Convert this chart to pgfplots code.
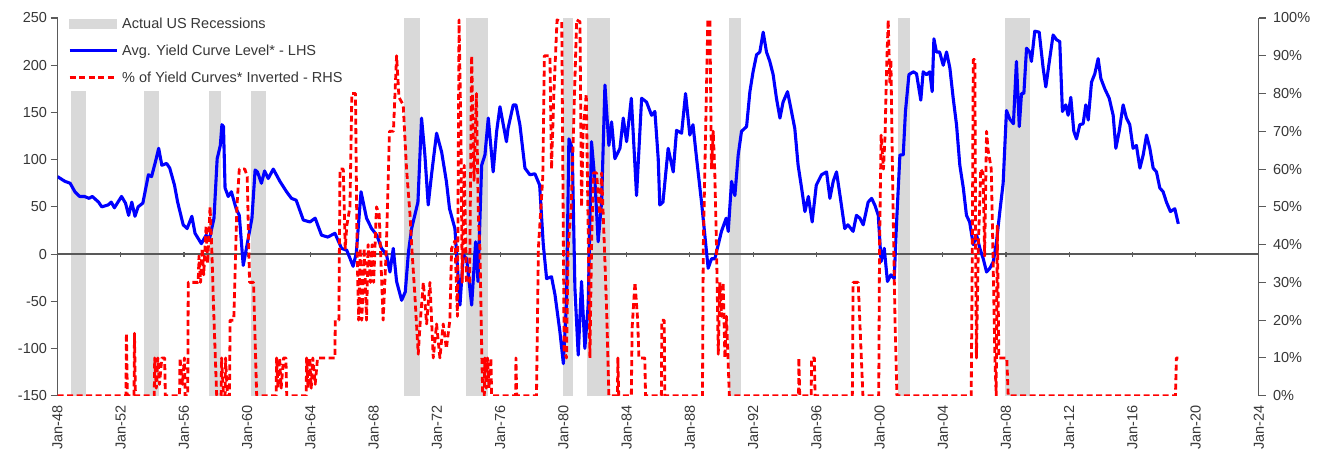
\documentclass[border=0pt]{standalone}
\usepackage{fontspec}
\setmainfont{Liberation Sans}
\usepackage{pgfplots}
\pgfplotsset{compat=1.18}
\definecolor{recgray}{RGB}{217,217,217}
\definecolor{axgray}{RGB}{90,90,90}
\definecolor{txtgray}{RGB}{55,55,55}
\definecolor{ycblue}{RGB}{0,0,255}
\definecolor{ycred}{RGB}{255,0,0}
\pgfplotsset{
  base/.style={
    scale only axis, width=1201.5pt, height=377.7pt,
    at={(57.5pt,53.3pt)}, anchor=south west,
    xmin=1948, xmax=2024,
    tick label style={font=\fontsize{14.5}{16}\selectfont, text=txtgray},
    major tick length=7pt, tick align=outside,
    axis line style={-, draw=axgray, line width=1.1pt},
    tick style={draw=axgray, line width=1.1pt},
  },
  recbar/.style={fill=recgray, draw=none, forget plot},
  mylineleg/.style={legend image code/.code={\draw[##1] (0pt,0pt) -- (47pt,0pt);}},
  myboxleg/.style={legend image code/.code={\fill[recgray] (0pt,-4.5pt) rectangle (47pt,4.5pt);}},
}
\begin{document}
\begin{tikzpicture}
\useasboundingbox (0,0) rectangle (1319pt,449pt);
% ---------- left axis: recessions + labels
\begin{axis}[base, ymin=-150, ymax=250,
  axis y line*=left, axis x line*=bottom,
  x axis line style={draw=none},
  xtick={1948,1952,...,2024},
  xticklabels={Jan-48,Jan-52,Jan-56,Jan-60,Jan-64,Jan-68,Jan-72,Jan-76,Jan-80,Jan-84,Jan-88,Jan-92,Jan-96,Jan-00,Jan-04,Jan-08,Jan-12,Jan-16,Jan-20,Jan-24},
  xtick style={draw=none},
  x tick label style={rotate=90, anchor=east, inner xsep=2.3pt},
  ytick={-150,-100,...,250},
  yticklabels={-150,-100,-50,0,50,100,150,200,250},
]
\addplot[recbar] coordinates {(1948.83,-150)(1948.83,250)(1949.83,250)(1949.83,-150)} --cycle;
\addplot[recbar] coordinates {(1953.5,-150)(1953.5,250)(1954.42,250)(1954.42,-150)} --cycle;
\addplot[recbar] coordinates {(1957.58,-150)(1957.58,250)(1958.33,250)(1958.33,-150)} --cycle;
\addplot[recbar] coordinates {(1960.25,-150)(1960.25,250)(1961.17,250)(1961.17,-150)} --cycle;
\addplot[recbar] coordinates {(1969.92,-150)(1969.92,250)(1970.92,250)(1970.92,-150)} --cycle;
\addplot[recbar] coordinates {(1973.83,-150)(1973.83,250)(1975.25,250)(1975.25,-150)} --cycle;
\addplot[recbar] coordinates {(1980.0,-150)(1980.0,250)(1980.58,250)(1980.58,-150)} --cycle;
\addplot[recbar] coordinates {(1981.5,-150)(1981.5,250)(1982.92,250)(1982.92,-150)} --cycle;
\addplot[recbar] coordinates {(1990.5,-150)(1990.5,250)(1991.25,250)(1991.25,-150)} --cycle;
\addplot[recbar] coordinates {(2001.17,-150)(2001.17,250)(2001.92,250)(2001.92,-150)} --cycle;
\addplot[recbar] coordinates {(2007.92,-150)(2007.92,250)(2009.5,250)(2009.5,-150)} --cycle;
\end{axis}
% ---------- zero line + blue series
\begin{axis}[base, ymin=-150, ymax=250,
  axis x line=middle, axis y line=none,
  x axis line style={-, draw=black!65, line width=1.4pt},
  xtick={1948,1952,...,2024}, xticklabels={}, ytick=\empty,
  major tick length=5pt,
]
\addplot[ycblue, line width=3.1pt, line join=round] coordinates {
(1948.0,82)(1948.47,77)(1948.8,75)(1949.1,66)(1949.4,61)(1949.7,61)(1950.0,59)(1950.2,61)
(1950.6,55)(1950.8,50)(1951.2,52)(1951.4,55)(1951.6,49)(1952.05,61)(1952.3,54)(1952.5,41)
(1952.7,55)(1952.9,40)(1953.1,50)(1953.4,54)(1953.75,84)(1953.95,82)(1954.2,98)(1954.4,112)
(1954.6,94)(1954.9,96)(1955.1,91)(1955.4,73)(1955.6,55)(1955.95,31)(1956.2,27)(1956.5,40)
(1956.7,22)(1957.1,11)(1957.4,20)(1957.6,15)(1957.9,38)(1958.1,101)(1958.3,115)(1958.4,137)
(1958.5,135)(1958.6,70)(1958.8,61)(1959.0,66)(1959.3,48)(1959.5,41)(1959.75,-12)(1959.95,6)
(1960.3,38)(1960.5,89)(1960.65,87)(1960.9,75)(1961.1,88)(1961.33,80)(1961.65,90)(1962.07,77)
(1962.49,66)(1962.8,59)(1963.1,57)(1963.55,36)(1963.97,34)(1964.3,38)(1964.7,20)(1965.1,18)
(1965.55,22)(1965.97,6)(1966.3,4)(1966.7,-13)(1966.9,1)(1967.2,66)(1967.55,38)(1967.87,27)
(1968.2,20)(1968.5,6)(1968.82,-1)(1969.03,-19)(1969.24,6)(1969.45,-29)(1969.77,-49)(1970.0,-40)
(1970.2,2)(1970.4,27)(1970.8,55)(1971.03,144)(1971.24,105)(1971.45,52)(1971.66,84)(1971.98,128)
(1972.3,108)(1972.6,77)(1972.8,48)(1973.14,27)(1973.46,-54)(1973.67,-1)(1973.88,-5)(1974.2,-54)
(1974.45,13)(1974.6,-29)(1974.83,94)(1975.04,105)(1975.25,144)(1975.56,87)(1975.78,130)(1975.99,156)
(1976.2,137)(1976.4,119)(1976.5,133)(1976.83,158)(1977.0,158)(1977.25,137)(1977.57,91)(1977.88,84)
(1978.2,85)(1978.5,73)(1978.73,10)(1978.94,-26)(1979.25,-24)(1979.47,-43)(1979.78,-82)(1980.0,-116)
(1980.2,-50)(1980.35,122)(1980.56,112)(1980.73,-36)(1980.94,-107)(1981.15,-29)(1981.36,-100)(1981.57,-54)
(1981.78,119)(1982.0,77)(1982.2,13)(1982.42,55)(1982.63,179)(1982.88,115)(1983.05,140)(1983.26,101)
(1983.58,112)(1983.79,144)(1984.0,119)(1984.3,165)(1984.63,62)(1984.95,165)(1985.26,161)(1985.58,147)
(1985.79,151)(1986.0,101)(1986.1,52)(1986.3,55)(1986.63,112)(1986.95,87)(1987.16,131)(1987.48,128)
(1987.73,170)(1988.0,126)(1988.2,137)(1988.43,101)(1988.74,55)(1988.95,20)(1989.16,-15)(1989.37,-5)
(1989.58,-5)(1989.8,10)(1990.0,24)(1990.3,38)(1990.43,24)(1990.64,77)(1990.85,62)(1991.06,105)
(1991.27,130)(1991.59,135)(1991.8,172)(1992.0,193)(1992.22,211)(1992.43,214)(1992.64,235)(1992.85,214)
(1993.06,204)(1993.27,190)(1993.48,165)(1993.7,144)(1993.9,161)(1994.18,172)(1994.43,151)(1994.64,133)
(1994.85,94)(1995.07,70)(1995.28,45)(1995.5,61)(1995.74,34)(1996.0,73)(1996.33,84)(1996.65,87)
(1996.86,59)(1997.07,77)(1997.28,87)(1997.5,62)(1997.8,27)(1998.0,31)(1998.33,24)(1998.54,41)
(1998.76,38)(1998.97,31)(1999.28,55)(1999.5,59)(1999.7,52)(1999.92,41)(2000.1,-8)(2000.3,6)
(2000.5,-29)(2000.72,-22)(2000.93,-26)(2001.08,34)(2001.29,105)(2001.5,105)(2001.64,151)(2001.86,190)
(2002.13,193)(2002.34,191)(2002.61,163)(2002.76,193)(2002.97,190)(2003.18,193)(2003.33,172)(2003.44,228)
(2003.6,214)(2003.8,214)(2004.03,200)(2004.24,214)(2004.45,197)(2004.66,165)(2004.87,137)(2005.08,94)
(2005.3,70)(2005.5,41)(2005.7,34)(2005.93,10)(2006.14,20)(2006.35,6)(2006.56,-5)(2006.77,-19)
(2006.98,-15)(2007.2,-8)(2007.4,13)(2007.61,45)(2007.82,75)(2008.03,152)(2008.24,143)(2008.47,138)
(2008.66,204)(2008.84,135)(2008.98,170)(2009.13,170)(2009.3,218)(2009.5,214)(2009.61,204)(2009.82,236)
(2010.1,235)(2010.35,197)(2010.52,177)(2010.75,205)(2010.98,232)(2011.2,227)(2011.4,225)(2011.57,151)
(2011.78,158)(2011.93,147)(2012.1,166)(2012.29,130)(2012.46,122)(2012.67,137)(2012.88,138)(2013.05,158)
(2013.2,142)(2013.41,182)(2013.62,191)(2013.83,207)(2014.0,186)(2014.25,175)(2014.53,165)(2014.78,147)
(2014.95,112)(2015.16,130)(2015.41,158)(2015.62,144)(2015.83,137)(2016.04,112)(2016.25,115)(2016.47,91)
(2016.68,105)(2016.89,126)(2017.1,112)(2017.31,91)(2017.52,87)(2017.73,70)(2017.94,66)(2018.15,55)
(2018.4,45)(2018.68,48)(2018.9,32)
};
\end{axis}
% ---------- right axis: red series + legend
\begin{axis}[base, ymin=0, ymax=100,
  axis y line*=right, axis x line=none, xtick=\empty,
  ytick={0,10,...,100},
  yticklabels={0\%,10\%,20\%,30\%,40\%,50\%,60\%,70\%,80\%,90\%,100\%},
  y tick label style={inner xsep=7pt},
  legend style={at={(0.0062,0.8054)}, anchor=south west, draw=none, fill=white,
    font=\fontsize{14.5}{16}\selectfont, text=txtgray,
    inner xsep=3pt, inner ysep=8pt, row sep=16pt, column sep=4pt,
    nodes={inner sep=0pt, text height=10pt, text depth=1pt}},
  legend cell align=left,
]
\addlegendimage{myboxleg}
\addlegendentry{Actual US Recessions}
\addlegendimage{ycblue, line width=3.1pt, mylineleg}
\addlegendentry{Avg. Yield Curve Level* - LHS}
\addplot[ycred, line width=2.8pt, dash pattern=on 6pt off 3.5pt, line join=round, mylineleg] coordinates {
(1948,0)(1952.33,0)(1952.36,16.5)(1952.42,0)(1952.84,0)(1952.87,16.5)(1952.93,0)
(1954.12,0)(1954.15,10)(1954.25,2)(1954.35,10)(1954.45,3)(1954.6,10)(1954.78,10)(1954.82,0)
(1955.72,0)(1955.75,10)(1955.9,3)(1956.03,10)(1956.07,0)
(1956.24,0)(1956.27,30)(1956.9,30)(1956.95,37)(1957.05,30)(1957.15,39)(1957.25,32)(1957.4,45)
(1957.5,35)(1957.65,50)(1957.75,40)(1957.9,20)(1958.07,0)
(1958.35,0)(1958.38,10)(1958.5,0)(1958.6,0)(1958.63,10)(1958.75,0)
(1958.88,0)(1958.92,20)(1959.15,20)(1959.35,50)(1959.5,60)(1959.85,60)(1960.0,58)(1960.15,30)
(1960.4,30)(1960.6,0)
(1961.83,0)(1961.86,10)(1961.95,2)(1962.05,10)(1962.15,2)(1962.3,10)(1962.45,10)(1962.5,0)
(1963.73,0)(1963.76,10)(1963.85,2)(1963.95,10)(1964.05,2)(1964.15,10)(1964.3,3)(1964.45,10)
(1965.55,10)(1965.57,20)(1965.8,20)(1965.87,60)(1966.08,60)(1966.2,39)(1966.3,45)(1966.5,50)
(1966.62,80)(1966.85,80)(1966.95,39)(1967.05,20)(1967.15,39)(1967.25,20)(1967.4,39)(1967.55,20)
(1967.65,40)(1967.8,30)(1967.9,40)(1968.0,30)(1968.18,50)(1968.35,48)(1968.6,20)(1968.8,39)
(1969.0,70)(1969.25,70)(1969.45,90)(1969.6,79)(1969.87,77)(1970.08,60)(1970.3,48)(1970.4,40)
(1970.6,27)(1970.82,11)(1970.92,18)(1971.14,30)(1971.35,19)(1971.56,30)(1971.77,10)(1971.98,19)
(1972.19,10)(1972.4,19)(1972.6,12.5)(1972.82,20)(1972.93,39)(1973.14,41)(1973.3,21)(1973.4,99.5)
(1973.52,70)(1973.6,30)(1973.73,61)(1973.87,30)(1974.07,30)(1974.2,90)(1974.35,57)(1974.5,80)
(1974.62,48)(1974.72,39)(1974.85,9)(1974.9,0)
(1975.0,0)(1975.03,10)(1975.12,2)(1975.2,10)(1975.3,2)(1975.42,10)(1975.46,0)
(1976.98,0)(1977.0,10)(1977.05,0)
(1978.3,0)(1978.42,39)(1978.7,58)(1978.8,90)(1979.15,90)(1979.25,60)(1979.4,80)(1979.6,99.5)
(1979.9,99)(1980.05,12)(1980.2,10)(1980.3,39)(1980.5,50)(1980.84,99.5)(1981.05,99)(1981.15,50)
(1981.25,70)(1981.45,80)(1981.68,10)(1981.78,39)(1981.9,59)(1982.1,59)(1982.3,48)(1982.42,59)
(1982.6,39)(1982.75,21)(1982.88,0)
(1983.42,0)(1983.45,10)(1983.5,0)
(1984.3,0)(1984.35,18)(1984.53,30)(1984.7,20)(1984.78,10)(1985.15,10)(1985.2,0)
(1986.2,0)(1986.23,20)(1986.38,20)(1986.42,0)
(1988.8,0)(1988.85,39)(1989.0,70)(1989.14,99.5)(1989.27,99.5)(1989.37,60)(1989.48,70)(1989.58,59)
(1989.69,39)(1989.8,11)(1989.9,30)(1990.0,21)(1990.11,30)(1990.22,10)(1990.32,21)(1990.5,0)
(1994.88,0)(1994.9,10)(1994.95,0)
(1995.68,0)(1995.7,10)(1995.88,10)(1995.92,0)
(1998.28,0)(1998.33,30)(1998.65,30)(1998.75,20)(1998.95,0)
(1999.95,0)(2000.0,39)(2000.1,69)(2000.25,60)(2000.35,69)(2000.45,87)(2000.55,99.5)(2000.65,83)
(2000.72,89)(2000.8,65)(2000.9,39)(2000.98,20)(2001.1,0)
(2005.8,0)(2005.87,39)(2005.93,89)(2006.03,89)(2006.08,39)(2006.13,10)(2006.25,39)(2006.4,60)
(2006.55,59)(2006.65,37)(2006.77,70)(2006.87,65)(2007.07,60)(2007.17,39)(2007.3,10)(2007.38,0)
(2007.45,45)(2007.55,10)(2007.72,10)(2008.05,10)(2008.14,0)
(2018.72,0)(2018.78,10)(2018.9,10)
};
\addlegendentry{\% of Yield Curves* Inverted - RHS}
\end{axis}
\end{tikzpicture}
\end{document}
